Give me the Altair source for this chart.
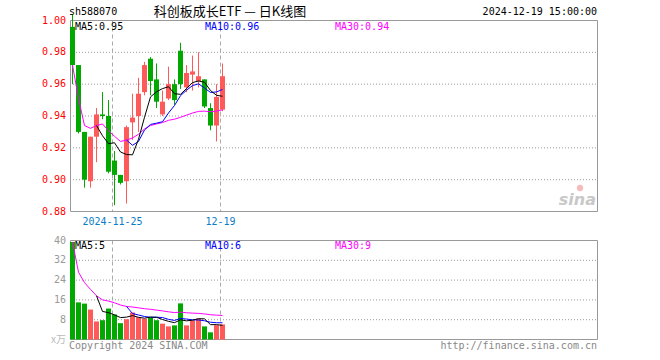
import altair as alt
import pandas as pd

# ---------------- data ----------------
dates = ["2024-11-14", "2024-11-15", "2024-11-18", "2024-11-19", "2024-11-20",
         "2024-11-21", "2024-11-22", "2024-11-25", "2024-11-26", "2024-11-27",
         "2024-11-28", "2024-11-29", "2024-12-02", "2024-12-03", "2024-12-04",
         "2024-12-05", "2024-12-06", "2024-12-09", "2024-12-10", "2024-12-11",
         "2024-12-12", "2024-12-13", "2024-12-16", "2024-12-17", "2024-12-18",
         "2024-12-19"]
opens = [0.996, 0.972, 0.930, 0.899, 0.927, 0.941, 0.940, 0.912, 0.903, 0.899,
         0.936, 0.940, 0.955, 0.976, 0.963, 0.941, 0.951, 0.960, 0.981, 0.958,
         0.966, 0.962, 0.963, 0.945, 0.934, 0.944]
highs = [1.004, 0.972, 0.930, 0.927, 0.945, 0.955, 0.950, 0.918, 0.903, 0.934,
         0.954, 0.964, 0.974, 0.977, 0.973, 0.956, 0.971, 0.963, 0.986, 0.972,
         0.978, 0.980, 0.963, 0.948, 0.960, 0.973]
lows = [0.960, 0.929, 0.895, 0.895, 0.911, 0.938, 0.904, 0.884, 0.897, 0.885,
        0.925, 0.930, 0.953, 0.953, 0.945, 0.940, 0.950, 0.947, 0.957, 0.955,
        0.956, 0.958, 0.945, 0.931, 0.924, 0.943]
closes = [0.972, 0.930, 0.900, 0.927, 0.941, 0.940, 0.905, 0.903, 0.898, 0.933,
          0.939, 0.954, 0.972, 0.962, 0.949, 0.949, 0.960, 0.950, 0.960, 0.967,
          0.968, 0.965, 0.946, 0.934, 0.952, 0.965]
volumes = [39.4, 15.0, 14.5, 12.1, 7.3, 7.8, 12.5, 10.1, 6.6, 8.2,
           10.9, 9.0, 8.4, 8.8, 7.8, 6.4, 5.3, 5.7, 14.6, 5.7,
           7.7, 8.4, 5.3, 2.9, 5.8, 6.1]

price_ticks = [0.88, 0.90, 0.92, 0.94, 0.96, 0.98, 1.00]
price_grid = [0.90, 0.92, 0.94, 0.96, 0.98]
vol_ticks = [8, 16, 24, 32, 40]
vol_grid = [8, 16, 24, 32]
marked_dates = ["2024-11-25", "2024-12-19"]

code = "sh588070"
title = "科创板成长ETF — 日K线图"
stamp = "2024-12-19 15:00:00"
ma_price = ["MA5:0.95", "MA10:0.96", "MA30:0.94"]
ma_vol = ["MA5:5", "MA10:6", "MA30:9"]

# ---------------- styling ----------------
RED = "#FF5A5A"
GREEN = "#00A800"
MA_COLORS = ["#000000", "#0000FF", "#FF00FF"]
MONO = "DejaVu Sans Mono"
CJK = "Noto Sans CJK SC"
FRAME = "#999999"

W, H = 527, 320

df = pd.DataFrame(dict(i=list(range(len(dates))), date=dates, open=opens,
                       high=highs, low=lows, close=closes, vol=volumes))

px = alt.Scale(domain=[-5 / 12, -5 / 12 + W / 6], nice=False, zero=False)
py = alt.Scale(domain=[0.88, 1.00], range=[191.5, 0.5], nice=False, zero=False)
vy = alt.Scale(domain=[0, 40], range=[319.5, 220.5], nice=False, zero=False)

color = alt.Color("dir:N", scale=alt.Scale(domain=["up", "down"], range=[RED, GREEN]),
                  legend=None)

base = alt.Chart(df).transform_calculate(
    dir="datum.close >= datum.open ? 'up' : 'down'",
    x0="datum.i - 5/12",
    x1="datum.i + 5/12",
    zero="0",
)

X_i = alt.X("i:Q", scale=px, axis=None)
X0 = alt.X("x0:Q", scale=px, axis=None)


def label(text, x, y, color="black", align="left", font=MONO, size=10, **kw):
    return alt.Chart(pd.DataFrame({"t": [text]})).mark_text(
        align=align, baseline="middle", font=font, fontSize=size, color=color, **kw
    ).encode(x=alt.value(x), y=alt.value(y), text="t:N")


def frame(top, bot, scale):
    return alt.Chart(pd.DataFrame({"a": [top], "b": [bot]})).mark_rect(
        filled=False, color=FRAME, strokeWidth=1
    ).encode(x=alt.value(0.5), x2=alt.value(W + 0.5),
             y=alt.Y("a:Q", scale=scale, axis=None), y2="b:Q")


def grid(vals, scale):
    return alt.Chart(pd.DataFrame({"v": vals})).mark_rule(
        color="#999999", strokeDash=[1, 2], strokeWidth=1
    ).encode(x=alt.value(0), x2=alt.value(W), y=alt.Y("v:Q", scale=scale, axis=None))


def vlines(top, bot, scale):
    return alt.Chart(df).transform_filter(
        alt.FieldOneOfPredicate(field="date", oneOf=marked_dates)
    ).transform_calculate(t=str(top), b=str(bot)).mark_rule(
        color="#AAAAAA", strokeDash=[4, 3], strokeWidth=1, xOffset=-2
    ).encode(x=X_i, y=alt.Y("t:Q", scale=scale, axis=None), y2="b:Q")


def ma(field, n, col, scale, full):
    c = alt.Chart(df).transform_window(
        m=f"mean({field})", cnt="count()", frame=[-(n - 1), 0],
        sort=[alt.SortField("i")]
    )
    if full:
        c = c.transform_filter(f"datum.cnt >= {n}")
    return c.mark_line(color=col, strokeWidth=1).encode(
        x=X_i, y=alt.Y("m:Q", scale=scale, axis=None), order="i:Q")


# price panel
wicks = base.mark_rule(strokeWidth=1).encode(
    x=X_i, y=alt.Y("low:Q", scale=py, axis=None), y2="high:Q", color=color)
bodies = base.mark_rect().encode(
    x=X0, x2="x1:Q", y=alt.Y("open:Q", scale=py, axis=None), y2="close:Q", color=color)

price_labels = alt.Chart(pd.DataFrame({"v": price_ticks})).mark_text(
    align="right", baseline="middle", font=MONO, fontSize=10, color="#FF0000"
).encode(x=alt.value(-4), y=alt.Y("v:Q", scale=py, axis=None),
         text=alt.Text("v:Q", format=".2f"))

date_labels = alt.Chart(df).transform_filter(
    alt.FieldOneOfPredicate(field="date", oneOf=marked_dates)
).transform_calculate(
    lab=f"datum.date == '{marked_dates[0]}' ? datum.date : slice(datum.date, 5)"
).mark_text(align="center", baseline="middle", font=MONO, fontSize=10,
            color="#0A7DC8", xOffset=-2).encode(x=X_i, y=alt.value(201.5), text="lab:N")

# volume panel
vbars = base.mark_rect().encode(
    x=X0, x2="x1:Q", y=alt.Y("vol:Q", scale=vy, axis=None), y2="zero:Q", color=color)

vol_labels = alt.Chart(pd.DataFrame({"v": vol_ticks})).mark_text(
    align="right", baseline="middle", font=MONO, fontSize=10, color="#999999"
).encode(x=alt.value(-4), y=alt.Y("v:Q", scale=vy, axis=None), text=alt.Text("v:Q", format="d"))

layers = [
    grid(price_grid, py), grid(vol_grid, vy),
    vlines(1.0, 0.88, py), vlines(40, 0, vy),
    frame(1.0, 0.88, py), frame(40, 0, vy),
    label("sina", W - 1, 180, color="#C8C8C8", align="right", font="DejaVu Sans",
          size=16, fontStyle="italic", fontWeight="bold"),
    alt.Chart(pd.DataFrame({"t": ["o"]})).mark_point(
        shape="circle", size=40, color="#F2A0A0", filled=True
    ).encode(x=alt.value(510), y=alt.value(168)),
    wicks, bodies,
    ma("close", 30, MA_COLORS[2], py, False),
    ma("close", 10, MA_COLORS[1], py, True),
    ma("close", 5, MA_COLORS[0], py, True),
    vbars,
    ma("vol", 30, MA_COLORS[2], vy, False),
    ma("vol", 10, MA_COLORS[1], vy, True),
    ma("vol", 5, MA_COLORS[0], vy, True),
    price_labels, vol_labels, date_labels,
    label("x万", -4, 320, color="#BBBBBB", align="right", font=CJK, size=10),
    label(code, -1, -8),
    label(title, 160, -8, align="center", font=CJK, size=13),
    label(stamp, W, -8, align="right"),
    label(ma_price[0], 5, 7, color=MA_COLORS[0]),
    label(ma_price[1], 135, 7, color=MA_COLORS[1]),
    label(ma_price[2], 265, 7, color=MA_COLORS[2]),
    label(ma_vol[0], 5, 226, color=MA_COLORS[0]),
    label(ma_vol[1], 135, 226, color=MA_COLORS[1]),
    label(ma_vol[2], 265, 226, color=MA_COLORS[2]),
    label("Copyright 2024 SINA.COM", -1, 326, color="#888888"),
    label("http://finance.sina.com.cn", W, 326, color="#888888", align="right"),
]

chart = alt.layer(*layers).resolve_scale(y="independent").properties(
    width=W, height=H,
    autosize=alt.AutoSizeParams(type="none"),
    padding={"left": 70, "top": 20, "right": 63, "bottom": 20},
    background="white",
).configure_view(strokeWidth=0)

chart.save("out.html", embed_options={"renderer": "svg", "actions": False})
